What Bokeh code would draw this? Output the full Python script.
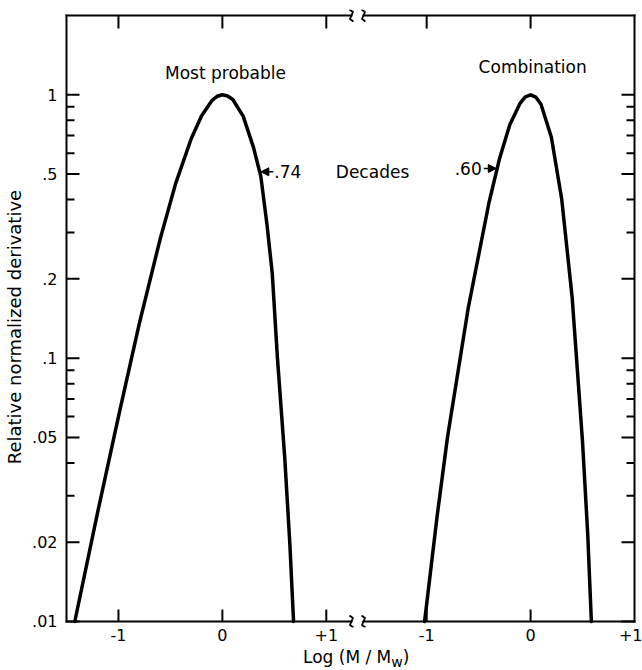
import math
from bokeh.plotting import figure
from bokeh.layouts import column
from bokeh.models import (Range1d, LinearAxis, LogAxis, FixedTicker, Label,
                          Arrow, NormalHead, ColumnDataSource, Div)
from bokeh.embed import file_html
from bokeh.resources import INLINE

# ---------------- data ----------------
# Most probable distribution: log(M/Mw) vs relative normalized derivative
mp_logm = [-1.42, -1.2, -1.0, -0.8, -0.6, -0.45, -0.3, -0.2, -0.1, -0.05, 0.0,
           0.05, 0.1, 0.2, 0.3, 0.37, 0.43, 0.48, 0.53, 0.6, 0.65, 0.685]
mp_val = [0.010, 0.026, 0.060, 0.135, 0.282, 0.46, 0.681, 0.833, 0.952, 0.987, 1.0,
          0.99, 0.96, 0.83, 0.63, 0.49, 0.32, 0.21, 0.10, 0.042, 0.0195, 0.010]

# Combination distribution
cb_logm = [-1.02, -0.9, -0.8, -0.6, -0.4, -0.3, -0.2, -0.1, -0.05, 0.0,
           0.05, 0.1, 0.2, 0.3, 0.4, 0.5, 0.55, 0.585]
cb_val = [0.010, 0.025, 0.050, 0.155, 0.39, 0.57, 0.77, 0.93, 0.981, 1.0,
          0.98, 0.92, 0.69, 0.40, 0.17, 0.048, 0.0214, 0.010]

# axis ticks
x_ticks = [-1.0, 0.0, 1.0]
x_tick_labels = ["-1", "0", "+1"]
y_ticks = [0.01, 0.02, 0.05, 0.1, 0.2, 0.5, 1.0]
y_tick_labels = [".01", ".02", ".05", ".1", ".2", ".5", "1"]
y_minor = [0.03, 0.04, 0.06, 0.07, 0.08, 0.09, 0.3, 0.4, 0.6, 0.7, 0.8, 0.9]

width_labels = [".74", ".60"]

# ---------------- layout ----------------
FONT = "DejaVu Sans"
OFF = 2.966          # horizontal shift of the right-hand panel (broken axis)
XL0, XR1 = -1.5, 1.0
YB, YT = 0.01, 2.0
BREAK = 1.30         # break position in left-panel units
XPAD = 0.0577        # ~6 px
YPADF = 10 ** 0.0228 # ~6 px in log space
PXX = 103.92         # px per x unit
PXY = 263.36         # px per decade
NAN = math.nan


def dx(px):
    return px / PXX


def fy(y, px):
    """move a log-scale value y up by px screen pixels"""
    return y * 10 ** (px / PXY)


p = figure(width=642, height=648,
           x_range=Range1d(XL0 - XPAD, XR1 + OFF + XPAD),
           y_range=Range1d(YB / YPADF, YT * YPADF),
           y_axis_type="log", x_axis_location=None, y_axis_location=None,
           output_backend="svg", toolbar_location=None,
           min_border_left=60, min_border_right=2, min_border_top=9,
           min_border_bottom=21)
p.extra_x_ranges = {"right": Range1d(XL0 - XPAD - OFF, XR1 + XPAD)}
p.outline_line_color = None
p.background_fill_color = "white"
p.border_fill_color = "white"
p.xgrid.visible = False
p.ygrid.visible = False

all_xt = x_ticks + [t + OFF for t in x_ticks]
all_xl = x_tick_labels + x_tick_labels


def style(ax):
    ax.axis_line_color = None
    ax.major_tick_line_color = None
    ax.minor_tick_line_color = None
    ax.major_tick_in = 0
    ax.major_tick_out = 0
    ax.minor_tick_in = 0
    ax.minor_tick_out = 0
    ax.major_label_text_font = FONT
    ax.major_label_text_color = "black"
    ax.major_label_text_font_size = "16px"


bottom = LinearAxis(ticker=FixedTicker(ticks=all_xt, minor_ticks=[]),
                    major_label_overrides=dict(zip(all_xt, all_xl)))
style(bottom)
bottom.major_label_standoff = 1
p.add_layout(bottom, "below")

left = LogAxis(ticker=FixedTicker(ticks=y_ticks, minor_ticks=y_minor),
               major_label_overrides=dict(zip(y_ticks, y_tick_labels)))
style(left)
left.major_label_standoff = 3
left.axis_label = "Relative normalized derivative\u00a0\u00a0\u00a0"
left.axis_label_text_font = FONT
left.axis_label_text_font_size = "18px"
left.axis_label_text_font_style = "normal"
left.axis_label_text_color = "black"
left.axis_label_standoff = 4
p.add_layout(left, "left")

# ---------------- frame box (broken top / bottom edges) ----------------
XE = XR1 + OFF
GAP = 0.058
box_xs = [[XL0, XL0], [XE, XE], [XL0, BREAK - GAP], [BREAK + GAP, XE],
          [XL0, BREAK - GAP], [BREAK + GAP, XE]]
box_ys = [[YB, YT], [YB, YT], [YT, YT], [YT, YT], [YB, YB], [YB, YB]]
p.multi_line(xs=box_xs, ys=box_ys, line_width=2, line_color="black",
             line_cap="square")

# tick marks (inward): one broken polyline, segments separated by NaN
MAJ, MIN = 13, 8
tk_x, tk_y = [], []
for yv in y_ticks + y_minor:
    L = MAJ if yv in y_ticks else MIN
    tk_x += [XL0, XL0 + dx(L), NAN, XE, XE - dx(L), NAN]
    tk_y += [yv, yv, NAN, yv, yv, NAN]
for xx in x_ticks + [t + OFF for t in x_ticks if t < 1]:
    tk_x += [xx, xx, NAN, xx, xx, NAN]
    tk_y += [YB, fy(YB, 12), NAN, YT, fy(YT, -13), NAN]
p.line(tk_x, tk_y, line_width=2, line_color="black", line_cap="butt")

# break squiggles (small S-shapes drawn in screen-pixel offsets)
sq_dx = [-2.0, 1.5, 0.0, -1.5, 2.0]
sq_dy = [6, 3.5, 0, -3.5, -6]
sq_xs, sq_ys = [], []
for bx in (BREAK - GAP, BREAK + GAP):
    for by in (YB, YT):
        sq_xs.append([bx + dx(d) for d in sq_dx])
        sq_ys.append([fy(by, d) for d in sq_dy])
p.multi_line(xs=sq_xs, ys=sq_ys, line_width=1.8, line_color="black",
             line_join="round")

# ---------------- curves ----------------
src_mp = ColumnDataSource(dict(x=mp_logm, y=mp_val))
src_cb = ColumnDataSource(dict(x=cb_logm, y=cb_val))
p.line("x", "y", source=src_mp, line_width=3.5, line_color="black",
       line_join="round", line_cap="round")
p.line("x", "y", source=src_cb, line_width=3.5, line_color="black",
       line_join="round", line_cap="round", x_range_name="right")

# ---------------- annotations ----------------
def lab(x, y, text, align="center", rng="default", size="17px"):
    p.add_layout(Label(x=x, y=y, text=text, text_font=FONT, text_font_size=size,
                       text_align=align, text_baseline="middle",
                       text_color="black", x_range_name=rng))


lab(0.03, 1.215, "Most probable")
lab(0.02, 1.27, "Combination", rng="right")

p.add_layout(Arrow(end=NormalHead(size=8, fill_color="black", line_color="black"),
                   x_start=0.49, y_start=0.51, x_end=0.37, y_end=0.51,
                   line_width=1.5, line_color="black"))
lab(0.50, 0.51, width_labels[0], align="left")
lab(1.445, 0.51, "Decades")
lab(-0.47, 0.525, width_labels[1], align="right", rng="right")
p.add_layout(Arrow(end=NormalHead(size=8, fill_color="black", line_color="black"),
                   x_start=-0.45, y_start=0.525, x_end=-0.33, y_end=0.525,
                   line_width=1.5, line_color="black", x_range_name="right"))

# x-axis title with subscript (HTML text below the plot)
xtitle = Div(text="Log (M / M<sub>w</sub>)", width=642, height=22,
             styles={"font-family": FONT, "font-size": "17px",
                     "padding-left": "303px", "line-height": "18px",
                     "color": "black", "margin": "0"})

layout = column(p, xtitle, spacing=0)
open("out.html", "w").write(file_html(layout, INLINE))
